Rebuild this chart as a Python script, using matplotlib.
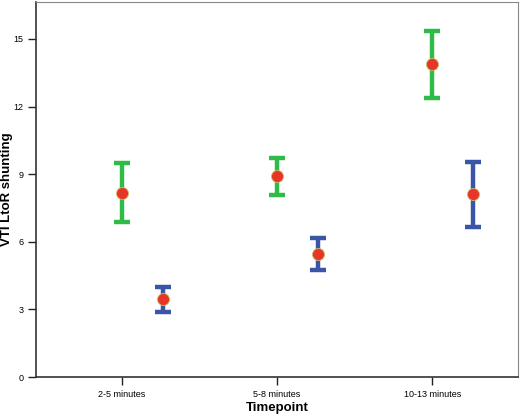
import matplotlib
matplotlib.use("Agg")
import matplotlib.pyplot as plt

timepoints = ["2-5 minutes", "5-8 minutes", "10-13 minutes"]
green_mean = [8.18, 8.90, 13.87]
green_low = [6.86, 8.07, 12.38]
green_high = [9.48, 9.70, 15.35]
blue_mean = [3.45, 5.46, 8.10]
blue_low = [2.90, 4.75, 6.64]
blue_high = [4.01, 6.16, 9.56]
y_ticks = [0, 3, 6, 9, 12, 15]

GREEN = "#2fbb47"
BLUE = "#3a55a8"
RED = "#e8352a"


def draw_group(ax, xs, mean, low, high, color):
    err = [[m - lo for m, lo in zip(mean, low)], [hi - m for m, hi in zip(mean, high)]]
    ax.errorbar(xs, mean, yerr=err, fmt="none", ecolor=color, elinewidth=3.2,
                capsize=6, capthick=3.2, zorder=2)
    ax.scatter(xs, mean, s=75, color=RED, edgecolor="#c8c060", linewidth=0.6, zorder=3)


fig = plt.figure(figsize=(5.2, 4.17), dpi=100)
ax = fig.add_axes([0.0692, 0.0959, 0.9269, 0.8993])

xs = list(range(len(timepoints)))
draw_group(ax, xs, green_mean, green_low, green_high, GREEN)
draw_group(ax, [x + 0.265 for x in xs], blue_mean, blue_low, blue_high, BLUE)

ax.set_xlim(-0.552, 2.552)
ax.set_ylim(0, 16.64)
ax.set_xticks(xs)
ax.set_xticklabels(timepoints, fontsize=6.5, family="Liberation Sans")
ax.set_yticks(y_ticks)
ax.set_yticklabels([str(t) for t in y_ticks], fontsize=6.5, family="Liberation Sans")
ax.tick_params(axis="both", direction="out", length=6, width=1, color="#222222", pad=3)

for side in ("left", "bottom"):
    ax.spines[side].set_color("#333333")
    ax.spines[side].set_linewidth(1.2)
for side in ("top", "right"):
    ax.spines[side].set_color("#888888")
    ax.spines[side].set_linewidth(0.8)

ax.set_xlabel("Timepoint", fontsize=9.5, fontweight="bold", family="Liberation Sans")
ax.set_ylabel("VTI LtoR shunting", fontsize=9.5, fontweight="bold", family="Liberation Sans")
ax.xaxis.set_label_coords(0.5, -0.083)
ax.xaxis.label.set_va("center")
ax.yaxis.set_label_coords(-0.060, 0.5)
ax.yaxis.label.set_va("center")

fig.savefig("out.png", dpi=100)
